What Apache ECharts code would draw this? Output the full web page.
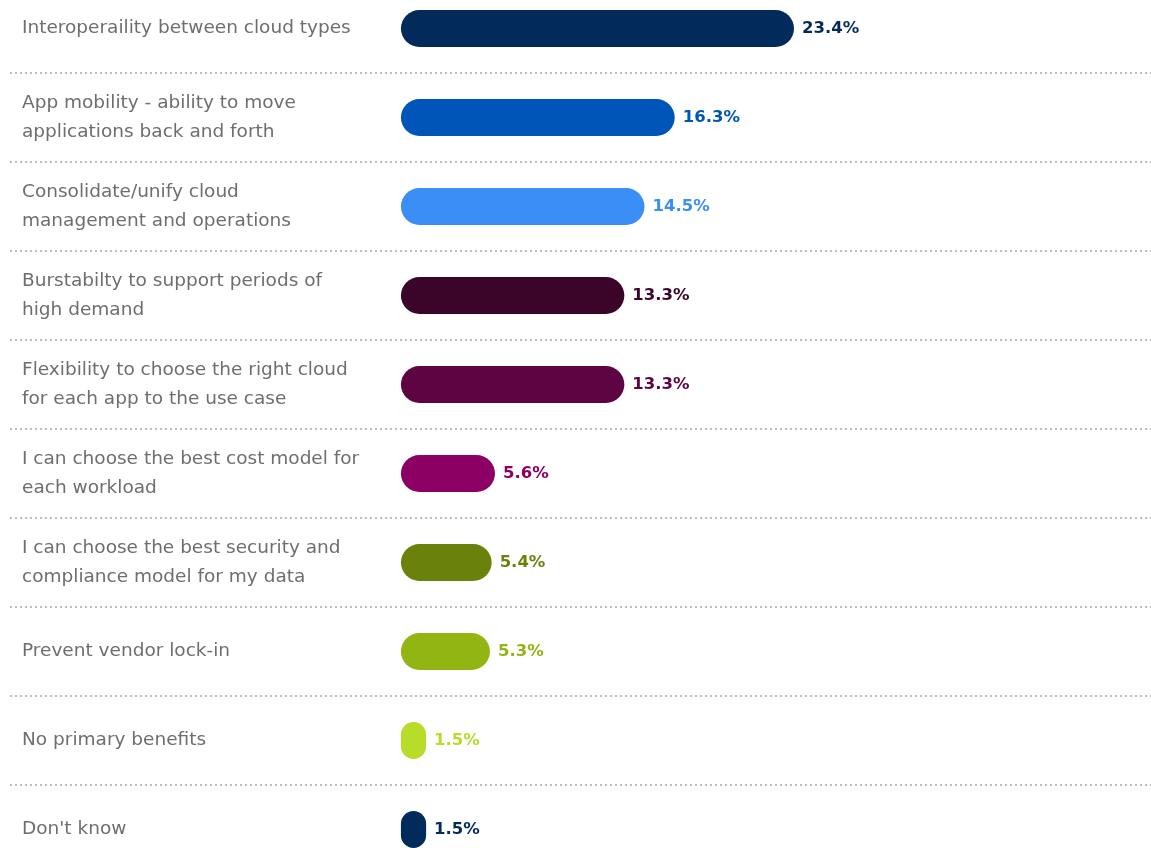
<!DOCTYPE html>
<html>
<head>
<meta charset="utf-8">
<script src="https://cdn.jsdelivr.net/npm/echarts@6/dist/echarts.min.js"></script>
<style>
  html, body { margin: 0; padding: 0; background: #ffffff; overflow: hidden; width: 1151px; height: 848px; }
  #chart { width: 1151px; height: 890px; position: absolute; left: 0; top: -16px; }
</style>
</head>
<body>
<div id="chart"></div>
<script>
const categories = [
  "Interoperaility between cloud types",
  "App mobility - ability to move\napplications back and forth",
  "Consolidate/unify cloud\nmanagement and operations",
  "Burstabilty to support periods of\nhigh demand",
  "Flexibility to choose the right cloud\nfor each app to the use case",
  "I can choose the best cost model for\neach workload",
  "I can choose the best security and\ncompliance model for my data",
  "Prevent vendor lock-in",
  "No primary benefits",
  "Don't know"
];
const values = [23.4, 16.3, 14.5, 13.3, 13.3, 5.6, 5.4, 5.3, 1.5, 1.5];
const palette = ["#022b5c", "#0055b8", "#3a8ef5", "#3b0429", "#5f0443", "#8c0064", "#6a810b", "#93b513", "#b7dd2a", "#022b5c"];

const chart = echarts.init(document.getElementById('chart'), null, { renderer: 'canvas' });
const data = values.map((v, i) => ({
  value: v,
  itemStyle: { color: palette[i] },
  label: { color: palette[i] }
}));

chart.setOption({
  animation: false,
  backgroundColor: '#ffffff',
  grid: { left: 10, right: 0, top: 0, bottom: 0, containLabel: false },
  xAxis: {
    type: 'value',
    min: -23.27,
    max: 44.65,
    show: false,
    splitLine: { show: false }
  },
  yAxis: {
    type: 'category',
    data: categories,
    inverse: true,
    axisLine: { show: false },
    axisTick: { show: false },
    axisLabel: {
      inside: true,
      margin: 12,
      align: 'left',
      color: '#6e6e6e',
      fontFamily: '"DejaVu Sans", sans-serif',
      fontSize: 18.5,
      lineHeight: 29,
      fontWeight: 'normal'
    },
    splitLine: {
      show: true,
      interval: 0,
      lineStyle: { color: '#bdbdbd', width: 2, type: [2, 3] }
    }
  },
  series: [{
    type: 'bar',
    data: data,
    barWidth: 37,
    itemStyle: { borderRadius: 18.5 },
    label: {
      show: true,
      position: 'right',
      distance: 8,
      formatter: '{c}%',
      fontFamily: '"DejaVu Sans", sans-serif',
      fontWeight: 'bold',
      fontSize: 16.5
    }
  }]
});
</script>
</body>
</html>
